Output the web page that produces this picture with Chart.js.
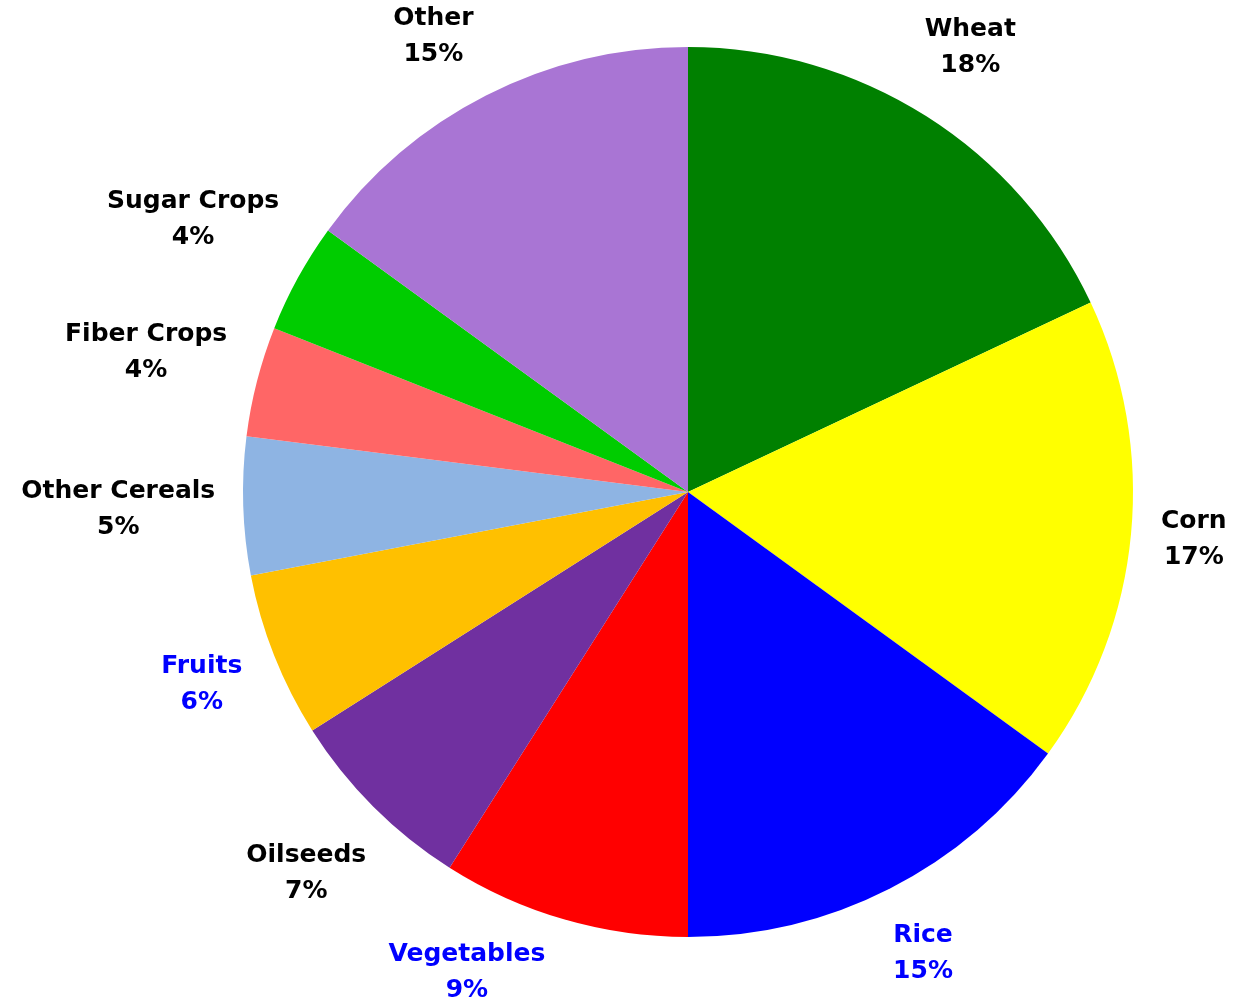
<!DOCTYPE html>
<html>
<head>
<meta charset="utf-8">
<title>Crop share</title>
<script src="https://cdn.jsdelivr.net/npm/chart.js@4"></script>
<style>
  html, body { margin: 0; padding: 0; background: #fff; }
  #wrap { width: 1239px; height: 1008px; }
</style>
</head>
<body>
<div id="wrap"><canvas id="cropChart" width="1239" height="1008"></canvas></div>
<script>
const crops = [
  "Wheat", "Corn", "Rice", "Vegetables", "Oilseeds",
  "Fruits", "Other Cereals", "Fiber Crops", "Sugar Crops", "Other",
];
const shares = [18, 17, 15, 9, 7, 6, 5, 4, 4, 15];

const sliceColors = [
  "#008000", "#ffff00", "#0000ff", "#ff0000", "#7030a0",
  "#ffc000", "#8eb4e3", "#ff6666", "#00cc00", "#a975d4",
];
const labelColors = [
  "#000", "#000", "#0000ff", "#0000ff", "#000",
  "#0000ff", "#000", "#000", "#000", "#000",
];

// name + percent drawn outside each slice, box pushed out along the mid angle
const outsideLabels = {
  id: "outsideLabels",
  afterDatasetsDraw(chart) {
    const ctx = chart.ctx;
    const meta = chart.getDatasetMeta(0);
    const total = shares.reduce((a, b) => a + b, 0);
    const lineH = 36;
    const gap = 27;
    ctx.save();
    ctx.font = "bold 25px 'DejaVu Sans'";
    ctx.textAlign = "center";
    ctx.textBaseline = "middle";
    meta.data.forEach((arc, i) => {
      const { x, y, startAngle, endAngle, outerRadius } = arc.getProps(
        ["x", "y", "startAngle", "endAngle", "outerRadius"], true);
      const mid = (startAngle + endAngle) / 2;
      const ux = Math.cos(mid), uy = Math.sin(mid);
      const pct = Math.round(shares[i] / total * 100) + "%";
      const w = Math.max(ctx.measureText(crops[i]).width, ctx.measureText(pct).width);
      const h = lineH * 2;
      const d = outerRadius + gap + (w / 2) * Math.abs(ux) + (h / 2) * Math.abs(uy);
      let cx = x + d * ux, cy = y + d * uy;
      // keep the box on the canvas: slide it round the same circle
      const lo = lineH, hi = chart.height - lineH;
      if (cy > hi || cy < lo) {
        cy = Math.min(hi, Math.max(lo, cy));
        const dy = cy - y;
        cx = x + Math.sign(ux) * Math.sqrt(Math.max(0, d * d - dy * dy));
      }
      ctx.fillStyle = labelColors[i];
      ctx.fillText(crops[i], cx, cy - lineH / 2);
      ctx.fillText(pct, cx, cy + lineH / 2);
    });
    ctx.restore();
  },
};

const ctx = document.getElementById("cropChart").getContext("2d");
const cropChart = new Chart(ctx, {
  type: "pie",
  data: {
    labels: crops,
    datasets: [
      {
        data: shares,
        backgroundColor: sliceColors,
        borderWidth: 0,
      },
    ],
  },
  options: {
    responsive: false,
    animation: false,
    layout: { padding: { top: 47, bottom: 71, left: 243, right: 106 } },
    plugins: {
      legend: { display: false },
      tooltip: { enabled: false },
    },
  },
  plugins: [outsideLabels],
});
</script>
</body>
</html>
